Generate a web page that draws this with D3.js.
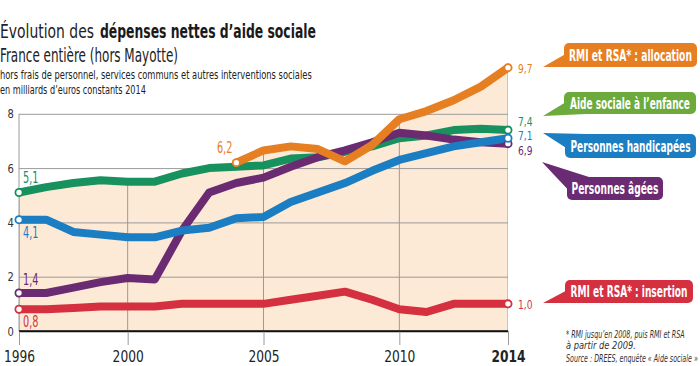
<!DOCTYPE html>
<html><head><meta charset="utf-8">
<script src="https://cdn.jsdelivr.net/npm/d3@7"></script>
<style>
html,body{margin:0;padding:0;background:#fff;}
svg{display:block;}
</style></head>
<body>
<svg id="chart" width="700" height="366"></svg>
<script>
// ---------- DATA ----------
const years = [1996,1997,1998,1999,2000,2001,2002,2003,2004,2005,2006,2007,2008,2009,2010,2011,2012,2013,2014];
const seriesNames = ["RMI et RSA* : insertion","Aide sociale à l’enfance","Personnes âgées","Personnes handicapées","RMI et RSA* : allocation"];
const insertion   = [0.8,0.8,0.85,0.9,0.9,0.9,1.0,1.0,1.0,1.0,1.15,1.3,1.45,1.15,0.8,0.7,1.0,1.0,1.0];
const enfance     = [5.1,5.3,5.45,5.55,5.5,5.5,5.8,6.0,6.05,6.1,6.35,6.4,6.6,6.8,7.1,7.2,7.4,7.45,7.4];
const agees       = [1.4,1.4,1.6,1.8,1.95,1.9,3.7,5.1,5.45,5.65,6.05,6.4,6.65,6.95,7.3,7.2,7.05,6.95,6.9];
const handicapees = [4.1,4.1,3.65,3.55,3.45,3.45,3.7,3.8,4.15,4.2,4.75,5.1,5.45,5.9,6.3,6.55,6.8,6.95,7.1];
const allocation  = [null,null,null,null,null,null,null,null,6.2,6.65,6.8,6.7,6.25,6.85,7.8,8.1,8.5,9.0,9.7];
const yTicks = [0,2,4,6,8];
const xTicks = [1996,2000,2005,2010,2014];
const titleRegular = "Évolution des";
const titleBold = "dépenses nettes d’aide sociale";
const subtitle = "France entière (hors Mayotte)";
const note1 = "hors frais de personnel, services communs et autres interventions sociales";
const note2 = "en milliards d’euros constants 2014";
const foot = ["* RMI jusqu’en 2008, puis RMI et RSA","à partir de 2009.","Source : DREES, enquête « Aide sociale »"];

// ---------- STYLE / LAYOUT ----------
const FONT = "'DejaVu Sans Condensed','Liberation Sans Narrow','Roboto',sans-serif";
const lineColors = ["#d5303f","#17925e","#6a2b72","#1b7ec3","#e67e22"];
const boxColors  = ["#d5303f","#6cab3b","#6a2b72","#1b7ec3","#e67e22"];
const values = [insertion, enfance, agees, handicapees, allocation];
const startOff = [[4,18,"start"],[4,-10,"start"],[4,-8,"start"],[4,18,"start"],[-4,-10,"end"]];
const endOff = [[10,5],[10,-4],[10,11],[10,2],[10,5]];
const boxes = [
  {x:565,y:280,w:128,h:23,tx:543,ty:303,tail:"bottom",tw:117},
  {x:564,y:92,w:132,h:22,tx:543,ty:116,tail:"bottom",tw:120},
  {x:567,y:177,w:96,h:23,tx:542,ty:162,tail:"top",tw:87},
  {x:565,y:134,w:131,h:24,tx:543,ty:133,tail:"top",tw:120},
  {x:564,y:43,w:133,h:24,tx:543,ty:67,tail:"bottom",tw:123}
];

const svg = d3.select("#chart").attr("font-family",FONT);
const x = d3.scaleLinear().domain([1996,2014]).range([19,508]);
const y = d3.scaleLinear().domain([0,8]).range([331,113.8]);

// text drawn at (px,py) with horizontal squeeze; either factor sx or target width w
function stext(parent, px, py, str, attrs, opt){
  const g = parent.append("g").attr("transform",`translate(${px},${py})`);
  const t = g.append("text").text(str);
  Object.entries(attrs).forEach(([k,v])=>t.attr(k,v));
  const nat = t.node().getComputedTextLength();
  const sx = opt.w ? opt.w/nat : opt.f;
  t.attr("transform",`scale(${sx},1)`);
  return t;
}

// ---------- Titles ----------
stext(svg,0,38,titleRegular,{"font-size":20,fill:"#222"},{w:94});
stext(svg,100,38,titleBold,{"font-size":20,"font-weight":"bold",fill:"#1a1a1a"},{w:216});
stext(svg,0,62,subtitle,{"font-size":19,fill:"#222"},{w:178});
stext(svg,0,79,note1,{"font-size":12,fill:"#222"},{w:312});
stext(svg,0,94,note2,{"font-size":12,fill:"#222"},{w:146});

// ---------- Envelope fill ----------
const envelope = years.map((yr,i)=>({year:yr, v:d3.max(values, s=>s[i])}));
const area = d3.area().x(d=>x(d.year)).y0(y(0)).y1(d=>y(d.v));
svg.append("path").datum(envelope).attr("d",area).attr("fill","#fdead6");
svg.append("clipPath").attr("id","envClip").append("path").datum(envelope).attr("d",area);

// horizontal gridlines + y labels
const yAxis = svg.append("g").attr("transform",`translate(${x(1996)},0)`)
  .call(d3.axisLeft(y).tickValues(yTicks).tickSize(-(x(2014)-x(1996))).tickPadding(6).tickFormat(d3.format("d")));
yAxis.attr("font-family",FONT);
yAxis.select(".domain").remove();
yAxis.selectAll(".tick line").attr("stroke",d=>d===0?"#111":"#9a9a9a").attr("stroke-width",d=>d===0?1.6:1);
yAxis.selectAll(".tick text").attr("font-size",13).attr("fill","#333").attr("transform","scale(0.85,1)");

// vertical gridlines clipped to envelope
svg.append("g").attr("clip-path","url(#envClip)").selectAll("line").data(xTicks).join("line")
  .attr("x1",d=>x(d)).attr("x2",d=>x(d)).attr("y1",y(0)).attr("y2",y(10))
  .attr("stroke","#9a9a9a").attr("stroke-width",1);
svg.append("line").attr("x1",x(1996)).attr("x2",x(1996)).attr("y1",y(8)).attr("y2",y(0))
  .attr("stroke","#9a9a9a").attr("stroke-width",1);

// x axis below
const xAxis = svg.append("g").attr("transform",`translate(0,${y(0)})`)
  .call(d3.axisBottom(x).tickValues(xTicks).tickSize(14).tickPadding(6).tickFormat(d3.format("d")));
xAxis.attr("font-family",FONT);
xAxis.select(".domain").remove();
xAxis.selectAll(".tick line").attr("stroke","#9a9a9a");
xAxis.selectAll(".tick text").attr("font-size",16).attr("fill","#222")
  .attr("font-weight",d=>d===2014?"bold":"normal").attr("transform","scale(0.85,1)");
svg.append("line").attr("x1",x(1996)).attr("x2",x(2014)).attr("y1",y(0)).attr("y2",y(0)).attr("stroke","#111").attr("stroke-width",1.6);

// ---------- Lines ----------
const line = d3.line().defined(d=>d.v!=null).x(d=>x(d.year)).y(d=>y(d.v));
const fmt = v => d3.format(".1f")(v).replace(".",",");
const order = [0,1,2,3,4];
order.forEach(k=>{
  const data = years.map((yr,i)=>({year:yr, v:values[k][i]}));
  svg.append("path").datum(data).attr("d",line).attr("fill","none")
    .attr("stroke",lineColors[k]).attr("stroke-width",8).attr("stroke-linejoin","round").attr("stroke-linecap","round");
});
order.forEach(k=>{
  const data = years.map((yr,i)=>({year:yr, v:values[k][i]})).filter(d=>d.v!=null);
  const first = data[0], last = data[data.length-1];
  [first,last].forEach(d=>{
    svg.append("circle").attr("cx",x(d.year)).attr("cy",y(d.v)).attr("r",3.6)
      .attr("fill","#fff").attr("stroke",lineColors[k]).attr("stroke-width",1.8);
  });
  stext(svg, x(first.year)+startOff[k][0], y(first.v)+startOff[k][1], fmt(first.v),
    {"font-size":15,fill:lineColors[k],"text-anchor":startOff[k][2]},{f:0.72});
  stext(svg, x(last.year)+endOff[k][0], y(last.v)+endOff[k][1], fmt(last.v),
    {"font-size":13,fill:lineColors[k]},{f:0.78});
});

// ---------- Legend callouts ----------
boxes.forEach((b,k)=>{
  const g = svg.append("g");
  let pts;
  if(b.tail==="bottom") pts=[[b.x+2,b.y+b.h*0.45],[b.tx,b.ty],[b.x+22,b.y+b.h]];
  else pts=[[b.x+22,b.y],[b.tx,b.ty],[b.x+2,b.y+b.h*0.6]];
  g.append("polygon").attr("points",pts.map(p=>p.join(",")).join(" ")).attr("fill",boxColors[k]);
  g.append("rect").attr("x",b.x).attr("y",b.y).attr("width",b.w).attr("height",b.h).attr("rx",5).attr("fill",boxColors[k]);
  stext(g, b.x+b.w/2, b.y+b.h/2+5.5, seriesNames[k],
    {"font-size":15,"font-weight":"bold",fill:"#fff","text-anchor":"middle"},{w:b.tw});
});

// ---------- Footnotes ----------
const fy=[338,349,362], fw=[119,70,132];
foot.forEach((s,i)=>{
  stext(svg,566,fy[i],s,{"font-size":10.5,"font-style":"italic",fill:"#333"},{w:fw[i]});
});
</script>
</body></html>
